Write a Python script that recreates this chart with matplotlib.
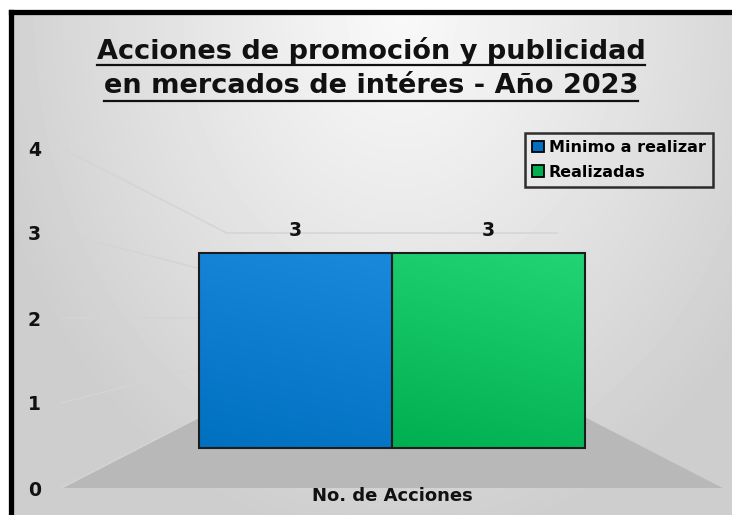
import numpy as np
import matplotlib.pyplot as plt
from matplotlib.patches import Polygon, Rectangle
from matplotlib.lines import Line2D
from matplotlib.colors import to_rgb

titulo = ["Acciones de promoción y publicidad", "en mercados de intéres - Año 2023"]
categoria = "No. de Acciones"
series = ["Minimo a realizar", "Realizadas"]
valores = [3, 3]
colores = ["#0070c0", "#00b050"]
colores_claros = ["#1a88dc", "#22d474"]
y_ticks = [0, 1, 2, 3, 4]

W, H = 732, 515
fig = plt.figure(figsize=(W / 100, H / 100), dpi=100)

# fondo con degradado radial (claro arriba al centro)
bg = fig.add_axes([11 / W, 0, 1 - 11 / W, 1 - 12 / H])
yy, xx = np.mgrid[0:503, 0:721]
r = np.sqrt(((xx - 390) / 430.0) ** 2 + ((yy - 0) / 540.0) ** 2)
g = 0.975 - 0.17 * np.clip(r, 0, 1) ** 1.1
bg.imshow(g, cmap="gray", vmin=0, vmax=1, aspect="auto", interpolation="bilinear")
bg.axis("off")

# marco negro izquierdo y superior
fig.add_artist(Line2D([10.5 / W, 10.5 / W], [0, 1 - 12 / H], color="black", lw=3.8,
                      transform=fig.transFigure, solid_capstyle="projecting"))
fig.add_artist(Line2D([10.5 / W, 1], [1 - 12 / H, 1 - 12 / H], color="black", lw=3.8,
                      transform=fig.transFigure, solid_capstyle="projecting"))

# ejes en el plano de las barras
PX0, PY0 = 392, 448
SX, SY = 193, 65
ax = fig.add_axes([40 / W, 10 / H, 692 / W, 385 / H])
ax.axis("off")

# perspectiva simple: profundidad k escala alrededor del horizonte
HORIZONTE = 2.0
K_FRENTE, K_FONDO = 85 / 65, 42.5 / 65
ESC_X = 1.31


def proyectar(x, v, k):
    return x * k * ESC_X, HORIZONTE + (v - HORIZONTE) * k


# piso
piso = [proyectar(-1, 0, K_FRENTE), proyectar(1, 0, K_FRENTE),
        proyectar(1, 0, K_FONDO), proyectar(-1, 0, K_FONDO)]
ax.add_patch(Polygon(piso, closed=True, facecolor="#b8b8b8", edgecolor="none", zorder=1))

# lineas de division en pared lateral y fondo
for v in y_ticks:
    pts = [proyectar(-1, v, K_FRENTE), proyectar(-1, v, K_FONDO), proyectar(1, v, K_FONDO)]
    px, py = zip(*pts)
    ax.plot(px, py, color="#d4d4d4", lw=1.1, zorder=2)
    x0, y0 = pts[0]
    ax.annotate(str(v), (x0, y0), xytext=(-27, -2), textcoords="offset pixels",
                ha="center", va="center", fontsize=13.5, fontweight="bold", color="#111111")

# barras con degradado
xs = [-0.5, 0.5]
barras = ax.bar(xs, valores, width=1.0, color=colores, edgecolor="none", zorder=5)
for b, c0, c1 in zip(barras, colores, colores_claros):
    a = np.array(to_rgb(c0))
    z = np.array(to_rgb(c1))
    t = np.linspace(0, 1, 60)
    tt = (t[:, None] * 0.8 + t[None, :] * 0.2)
    img = tt[..., None] * z + (1 - tt[..., None]) * a
    x0, w, h = b.get_x(), b.get_width(), b.get_height()
    im = ax.imshow(img, extent=(x0, x0 + w, 0, h), origin="lower", aspect="auto",
                   interpolation="bilinear", zorder=6)
    im.set_clip_path(b)
ax.bar(xs, valores, width=1.0, fill=False, edgecolor="#1c1c1c", lw=1.5, zorder=7)
ax.set_xlim((40 - PX0) / SX, (732 - PX0) / SX)
ax.set_ylim((PY0 - 505) / SY, (PY0 - 120) / SY)

# etiquetas de valor
for x, v in zip(xs, valores):
    ax.annotate(str(v), (x, v), xytext=(0, 23), textcoords="offset pixels",
                ha="center", va="center", fontsize=13.5, fontweight="bold", color="#111111")

# etiqueta de la categoria
cx, cy = proyectar(0, 0, K_FRENTE)
ax.annotate(categoria, (cx, cy), xytext=(0, -8), textcoords="offset pixels",
            ha="center", va="center", fontsize=13, fontweight="bold", color="#111111")

# leyenda
handles = [Rectangle((0, 0), 1, 1, facecolor=c, edgecolor="black", lw=1.3) for c in colores]
leg = ax.legend(handles, series, loc="upper right", bbox_to_anchor=(713 / W, 1 - 133 / H),
                bbox_transform=fig.transFigure, borderaxespad=0, fancybox=False,
                handlelength=0.75, handleheight=0.75, handletextpad=0.3,
                labelspacing=0.6, borderpad=0.45, prop={"weight": "bold", "size": 11.5})
leg.get_frame().set_edgecolor("black")
leg.get_frame().set_linewidth(1.8)
leg.get_frame().set_facecolor("none")

# titulo subrayado
textos = []
for linea, yp in zip(titulo, [51, 86]):
    textos.append(fig.text(371 / W, 1 - yp / H, linea, ha="center", va="center",
                           fontsize=19.5, fontweight="bold", color="#111111"))
fig.canvas.draw()
rend = fig.canvas.get_renderer()
for t, yp in zip(textos, [65, 101]):
    bb = t.get_window_extent(rend)
    fig.add_artist(Line2D([bb.x0 / W, bb.x1 / W], [1 - yp / H, 1 - yp / H],
                          color="#111111", lw=1.6, transform=fig.transFigure))

fig.savefig("out.png", dpi=100)
